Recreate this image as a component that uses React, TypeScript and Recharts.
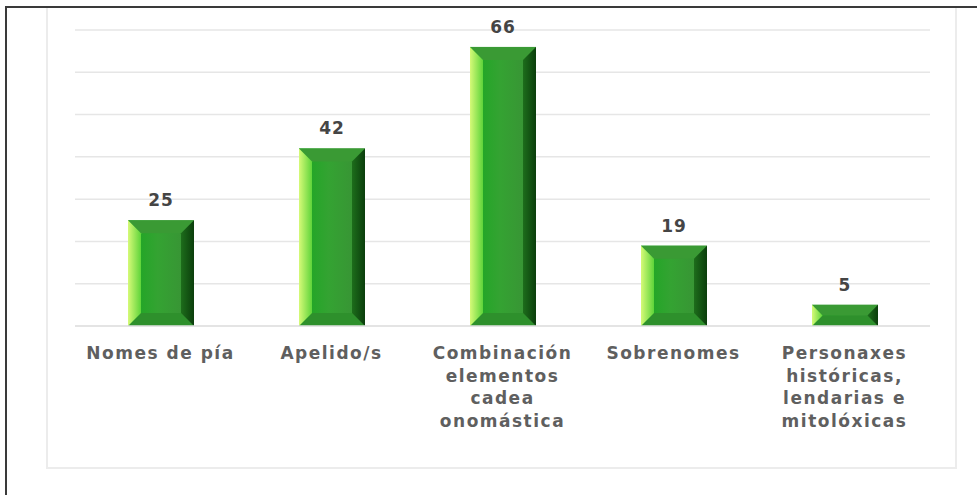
import { BarChart, Bar, XAxis, YAxis, CartesianGrid, LabelList } from "recharts";

// name types counted in the corpus
const categories = [
  "Nomes de pía",
  "Apelido/s",
  "Combinación elementos cadea onomástica",
  "Sobrenomes",
  "Personaxes históricas, lendarias e mitolóxicas",
];
const categoryLines = [
  ["Nomes de pía"],
  ["Apelido/s"],
  ["Combinación", "elementos", "cadea", "onomástica"],
  ["Sobrenomes"],
  ["Personaxes", "históricas,", "lendarias e", "mitolóxicas"],
];
const counts = [25, 42, 66, 19, 5];
const yTicks = [0, 10, 20, 30, 40, 50, 60, 70];

const FONT = "'DejaVu Sans', sans-serif";

const chartData = categories.map((c, i) => ({ name: c, value: counts[i] }));

// bevelled block bar: front face plus four sloped edges
function BevelBar(props: any) {
  const { x, y, width, height } = props;
  if (!height || height <= 0) return null;
  const b = Math.min(13, height / 2, width / 2);
  const x2 = x + width;
  const y2 = y + height;
  return (
    <g>
      <rect x={x} y={y} width={width} height={height} fill="url(#faceGrad)" />
      {/* top */}
      <polygon points={`${x},${y} ${x2},${y} ${x2 - b},${y + b} ${x + b},${y + b}`} fill="#3a9a34" />
      {/* bottom */}
      <polygon points={`${x},${y2} ${x2},${y2} ${x2 - b},${y2 - b} ${x + b},${y2 - b}`} fill="#2e902c" />
      {/* left */}
      <polygon points={`${x},${y} ${x + b},${y + b} ${x + b},${y2 - b} ${x},${y2}`} fill="url(#leftGrad)" />
      {/* right */}
      <polygon points={`${x2},${y} ${x2 - b},${y + b} ${x2 - b},${y2 - b} ${x2},${y2}`} fill="url(#rightGrad)" />
    </g>
  );
}

function CategoryTick(props: any) {
  const { x, y, payload } = props;
  const lines = categoryLines[payload.index] ?? [payload.value];
  return (
    <g transform={`translate(${x},${y})`}>
      {lines.map((l, i) => (
        <text
          key={i}
          x={0}
          y={25 + i * 22.7}
          textAnchor="middle"
          fill="#5f5f5f"
          fontFamily={FONT}
          fontWeight="bold"
          fontSize={17}
          letterSpacing={1.5}
        >
          {l}
        </text>
      ))}
    </g>
  );
}

export default function App() {
  return (
    <div style={{ position: "absolute", left: 0, top: 0, width: 977, height: 495, background: "#fff" }}>
      {/* outer frame */}
      <div style={{ position: "absolute", left: 5, top: 6, width: 972, height: 2, background: "#3a3a3a" }} />
      <div style={{ position: "absolute", left: 5, top: 6, width: 2, height: 489, background: "#3a3a3a" }} />
      {/* chart area box */}
      <div
        style={{
          position: "absolute",
          left: 46,
          top: 8,
          width: 911,
          height: 461,
          border: "2px solid #ececec",
          borderTop: "none",
          boxSizing: "border-box",
        }}
      />
      <div style={{ position: "absolute", left: 0, top: 0 }}>
        <BarChart
          width={977}
          height={495}
          data={chartData}
          margin={{ top: 30, right: 47, bottom: 39, left: 75 }}
        >
          <defs>
            <linearGradient id="faceGrad" x1="0" y1="0" x2="1" y2="0">
              <stop offset="0%" stopColor="#18a820" />
              <stop offset="45%" stopColor="#34a332" />
              <stop offset="100%" stopColor="#3a8e36" />
            </linearGradient>
            <linearGradient id="leftGrad" x1="0" y1="0" x2="1" y2="0">
              <stop offset="0%" stopColor="#d6fa78" />
              <stop offset="100%" stopColor="#5ed43a" />
            </linearGradient>
            <linearGradient id="rightGrad" x1="0" y1="0" x2="1" y2="0">
              <stop offset="0%" stopColor="#1d6d1b" />
              <stop offset="100%" stopColor="#0b3e0c" />
            </linearGradient>
          </defs>
          <CartesianGrid vertical={false} stroke="#e6e6e6" strokeWidth={1.5} />
          <XAxis
            dataKey="name"
            axisLine={{ stroke: "#e2e2e2", strokeWidth: 1.5 }}
            tickLine={false}
            height={130}
            interval={0}
            tick={<CategoryTick />}
          />
          <YAxis hide domain={[0, 70]} ticks={yTicks} />
          <Bar dataKey="value" barSize={66} shape={<BevelBar />} isAnimationActive={false}>
            <LabelList
              dataKey="value"
              position="top"
              offset={14}
              fill="#454545"
              fontFamily={FONT}
              fontWeight="bold"
              fontSize={17}
              letterSpacing={1}
            />
          </Bar>
        </BarChart>
      </div>
    </div>
  );
}
